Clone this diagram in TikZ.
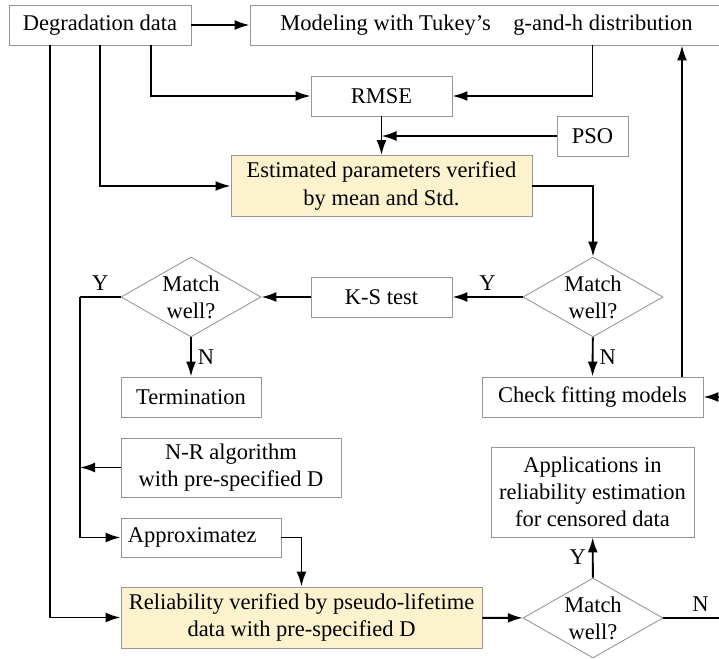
\documentclass[tikz,border=0pt]{standalone}
\usepackage{fontspec}
\setmainfont{Liberation Serif}
\usetikzlibrary{arrows.meta,shapes.geometric}
\definecolor{boxgray}{RGB}{150,150,150}
\definecolor{paleyellow}{RGB}{252,242,206}
\begin{document}
\begin{tikzpicture}[x=.2mm,y=-.2mm,>={Latex[length=3mm,width=2mm]},
  font=\fontsize{12.8}{15.4}\selectfont,
  box/.style={draw=boxgray,line width=.5pt,rectangle,inner sep=0pt,align=center},
  keybox/.style={box,fill=paleyellow},
  ask/.style={draw=boxgray,line width=.5pt,diamond,shape aspect=1.75,inner sep=0pt,minimum width=28mm,minimum height=16mm,align=center},
  flow/.style={line width=1.1pt,->}]
\useasboundingbox (0,0) rectangle (719,659);
% boxes
\node[box,minimum width=36.4mm,minimum height=8mm] (data) at (100,25) {Degradation data};
\node[box,minimum width=94.6mm,minimum height=8mm] (model) at (486.5,25) {Modeling with Tukey’s\hspace{1em}g-and-h distribution};
\node[box,minimum width=28.2mm,minimum height=8mm] (rmse) at (381.5,96) {RMSE};
\node[box,minimum width=14.2mm,minimum height=8mm] (pso) at (592.5,136) {PSO};
\node[keybox,minimum width=60.2mm,minimum height=12.2mm] (est) at (381.5,186) {Estimated parameters verified\\by mean and Std.};
\node[ask] (chk1) at (593,297) {Match\\well?};
\node[box,minimum width=28.2mm,minimum height=8mm] (ks) at (381.5,297) {K-S test};
\node[ask] (chk2) at (191,297) {Match\\well?};
\node[box,minimum width=28mm,minimum height=8mm] (term) at (191,397) {Termination};
\node[box,minimum width=44.2mm,minimum height=8mm] (refit) at (592.5,397) {Check fitting models};
\node[box,minimum width=44mm,minimum height=11.8mm] (nr) at (231,467.5) {N-R algorithm\\with pre-specified D};
\node[box,minimum height=7.8mm,inner xsep=1.4mm,text width=29.2mm,align=left] (approx) at (201,537.5) {Approximatez};
\node[keybox,minimum width=72.2mm,minimum height=12.2mm] (rel) at (301.5,617.5) {Reliability verified by pseudo-lifetime\\data with pre-specified D};
\node[ask] (chk3) at (593,618) {Match\\well?};
\node[box,minimum width=40.6mm,minimum height=18mm] (app) at (592.5,492) {Applications in\\reliability estimation\\for censored data};
\coordinate (ybus) at (80,297);
\coordinate (rimN) at (725,618);
\coordinate (rimIn) at (725,397);
% connectors
\draw[flow] (data) -- (model);
\draw[flow] ([xshift=10.2mm]data.south) |- (rmse);
\draw[flow] (pso |- model.south) |- (rmse);
\draw[flow] (rmse) -- (est);
\draw[flow] (pso) -- (rmse |- pso);
\draw[flow] (data.south) |- (est);
\draw[flow] (est) -| (chk1);
\draw[flow] (chk1) -- node[above]{Y} (ks);
\draw[flow] (ks) -- (chk2);
\draw[flow] (chk2) -- node[right]{N} (term);
\draw[flow] (chk1) -- node[right]{N} (refit);
\draw[line width=1.1pt] (chk2) -- node[above]{Y} (ybus);
\draw[flow] (ybus) |- (approx);
\draw[flow] (nr) -- (ybus |- nr);
\draw[flow] (approx) -| (rel);
\draw[flow] ([xshift=-10mm]data.south) |- (rel);
\draw[flow] (rel) -- (chk3);
\draw[flow] (chk3) -- node[left]{Y} (app);
\draw[line width=1.1pt] (chk3) -- node[above,pos=.6]{N} (rimN);
\draw[flow] (rimIn) -- (refit);
\draw[flow] ([xshift=17.9mm]refit.north) -- ([xshift=17.9mm]refit.north |- model.south);
\end{tikzpicture}
\end{document}
